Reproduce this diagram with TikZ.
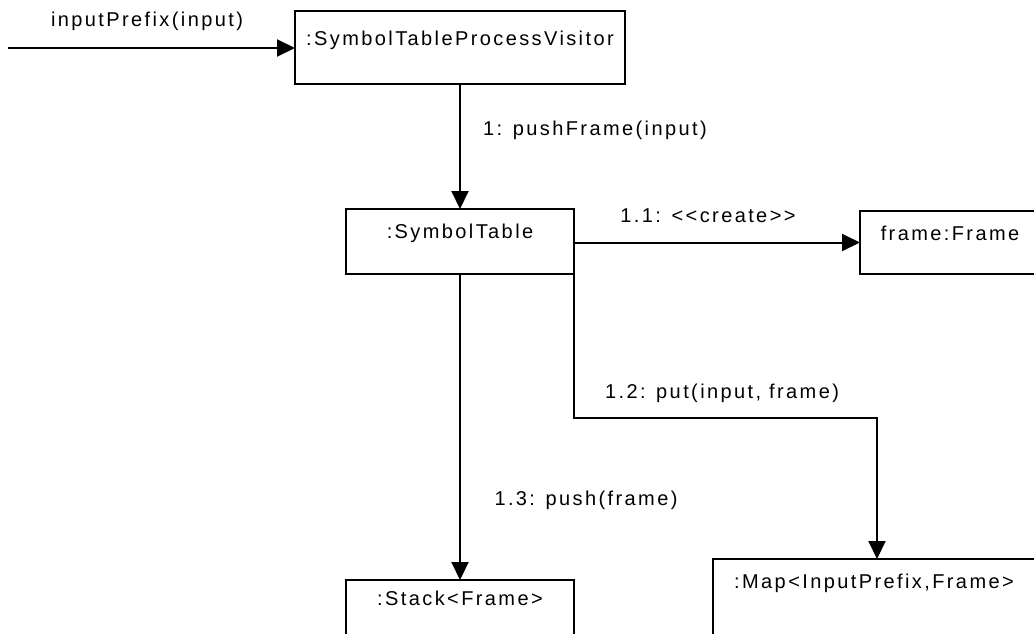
\documentclass[tikz,border=0pt]{standalone}
\usepackage{fontspec}
\newfontfamily\diafont[LetterSpace=12]{Liberation Sans}
\usetikzlibrary{arrows.meta}
\begin{document}
\begin{tikzpicture}[x=1pt,y=-1pt,
  box/.style={draw=black, line width=2pt, fill=white, rectangle, inner sep=0pt, outer sep=0pt, anchor=north west},
  txt/.style={font=\diafont\fontsize{20}{24}\selectfont, inner sep=0pt, anchor=center},
  msg/.style={draw=black, line width=2pt, -{Triangle[length=18pt,width=17pt]}}]
  \useasboundingbox (0,0) rectangle (1034,633);
  \clip (0,0) rectangle (1034,633);
  \fill[white] (0,0) rectangle (1034,633);

  % objects (the ones at the right and bottom run past the page edge)
  \node[box, minimum width=330pt, minimum height=73pt] (vis) at (295,11) {};
  \node[box, minimum width=228pt, minimum height=65pt] (st) at (346,209) {};
  \node[box, minimum width=180pt, minimum height=63pt] (fr) at (860,211) {};
  \node[box, minimum width=328pt, minimum height=90pt] (map) at (713,559) {};
  \node[box, minimum width=228pt, minimum height=70pt] (stk) at (346,580) {};

  \node[txt] (visl) at (460,40) {:SymbolTableProcessVisitor};
  \node[txt] (stl) at (460,233) {:SymbolTable};
  \node[txt] (frl) at (950,233) {frame:Frame};
  \node[txt] (mapl) at (874,583) {:Map<InputPrefix,Frame>};
  \node[txt] (stkl) at (460,598) {:Stack<Frame>};

  % messages
  \coordinate (start) at (8,48);
  \draw[msg] (start) -- (vis.west |- start);
  \node[txt] (m0) at (147,21) {inputPrefix(input)};

  \draw[msg] (vis.south -| st.north) -- (st.north);
  \node[txt] (m1) at (595,130) {1: pushFrame(input)};

  \draw[msg] (st.east |- fr.west) -- (fr.west);
  \node[txt] (m11) at (708,216) {1.1: <{}<create>{}>};

  \coordinate (bend) at (574,418);
  \draw[msg] (st.south east) -- (bend) -| (map.north);
  \node[txt] (m12) at (722,393) {1.2: put(input, frame)};

  \draw[msg] (st.south) -- (stk.north);
  \node[txt] (m13) at (586,500) {1.3: push(frame)};
\end{tikzpicture}
\end{document}
